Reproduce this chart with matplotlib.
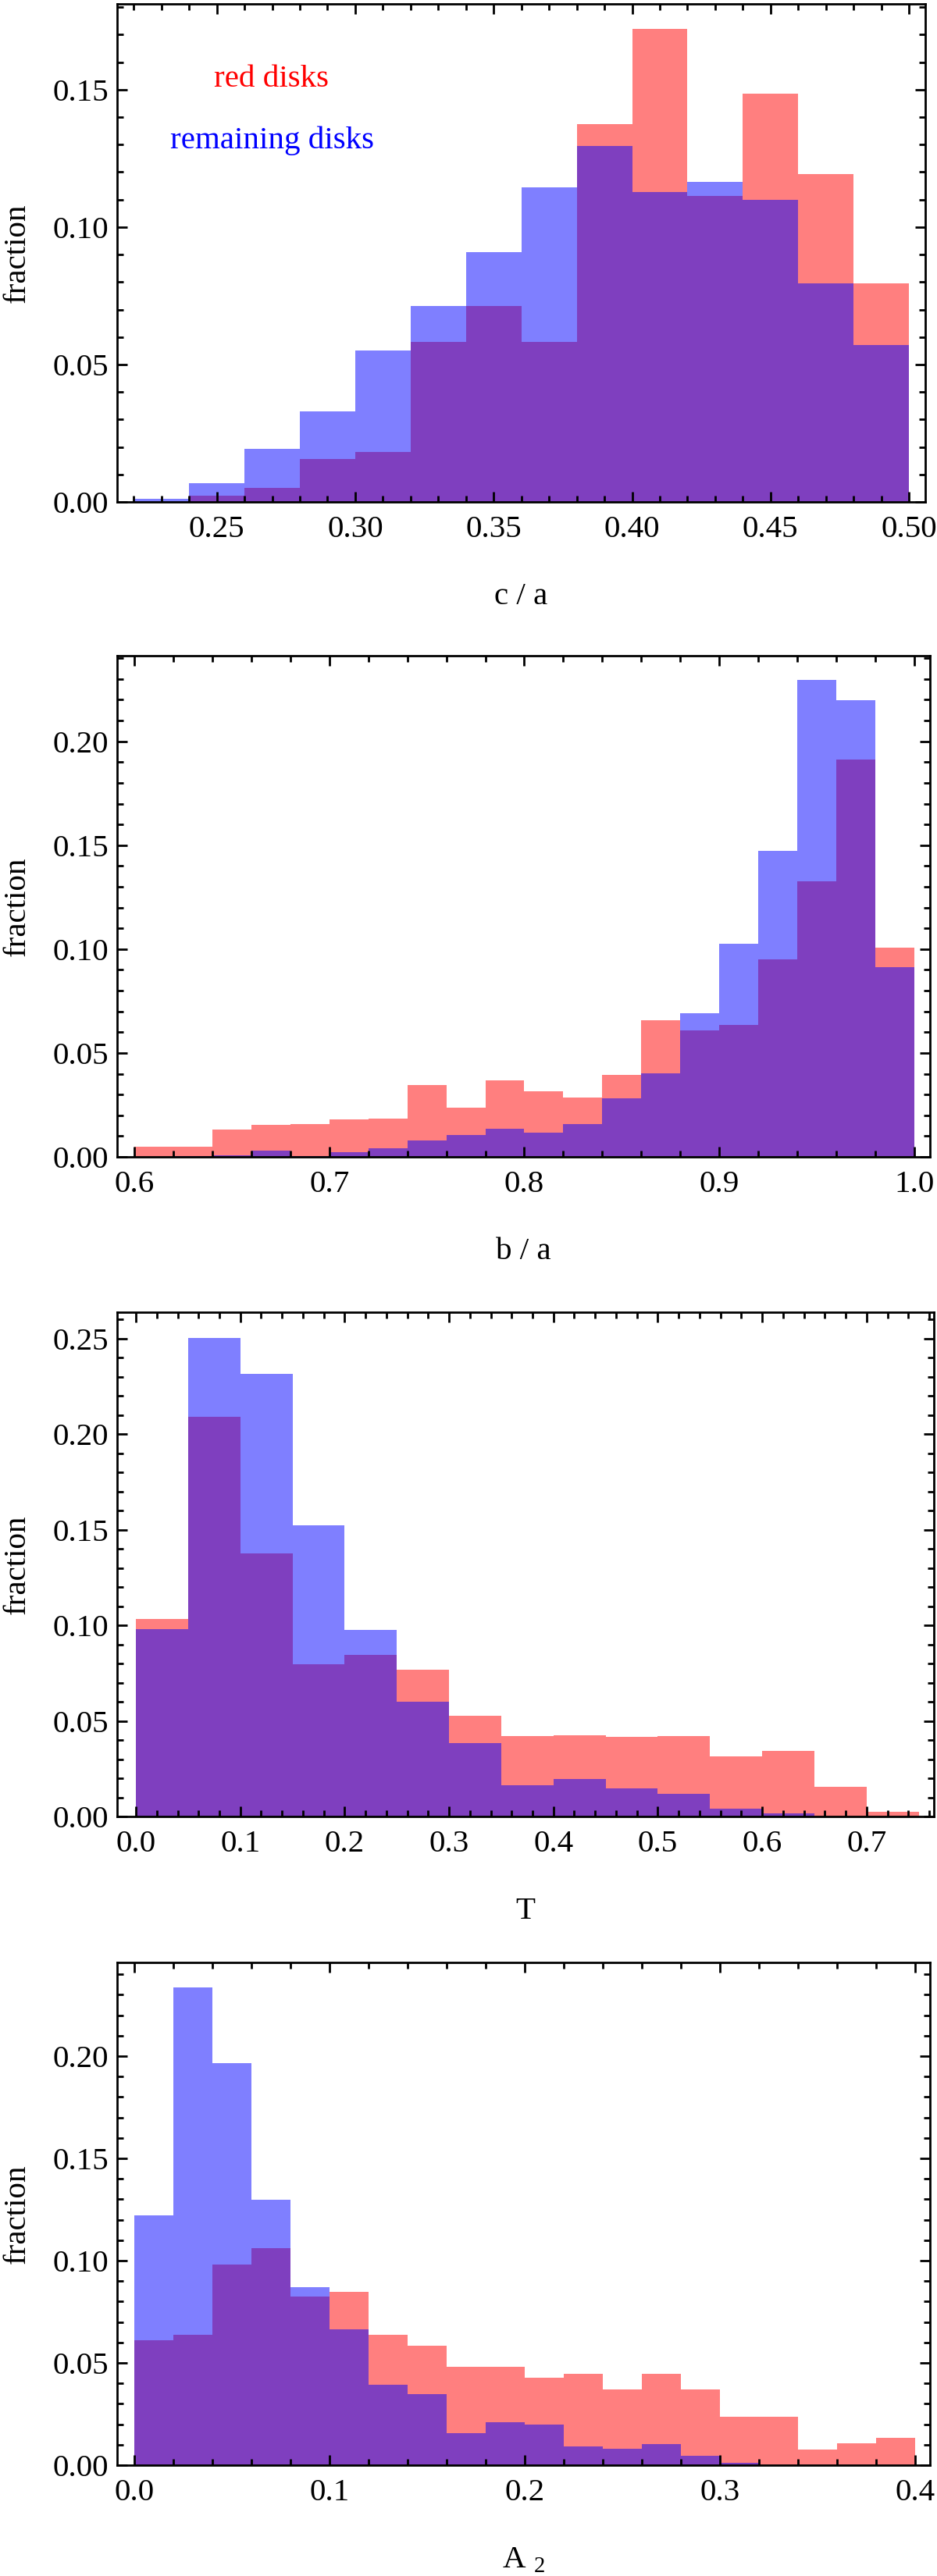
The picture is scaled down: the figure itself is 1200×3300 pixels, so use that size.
import matplotlib
matplotlib.use('Agg')
import matplotlib.pyplot as plt
import numpy as np
from matplotlib.ticker import MultipleLocator, FormatStrFormatter

plt.rcParams['font.family'] = ['Liberation Serif', 'DejaVu Serif']
plt.rcParams['mathtext.fontset'] = 'custom'
plt.rcParams['mathtext.rm'] = 'Liberation Serif'

# c / a histogram (bins of 0.02)
ca_edges = np.arange(0.22, 0.5001, 0.02)
ca_red = [0.0, 0.0022, 0.0051, 0.0156, 0.0182, 0.0583, 0.0712, 0.0583, 0.1376, 0.1722, 0.1113, 0.1484, 0.1192, 0.0794]
ca_blue = [0.0010, 0.0067, 0.0193, 0.0330, 0.0550, 0.0712, 0.0908, 0.1144, 0.1295, 0.1128, 0.1164, 0.1099, 0.0794, 0.0571]

# b / a histogram (bins of 0.02)
ba_edges = np.arange(0.60, 1.0001, 0.02)
ba_red = [0.0050, 0.0049, 0.0131, 0.0154, 0.0158, 0.0181, 0.0183, 0.0344, 0.0236, 0.0367,
          0.0317, 0.0286, 0.0396, 0.0659, 0.0607, 0.0636, 0.0951, 0.1326, 0.1912, 0.1007]
ba_blue = [0.0, 0.0004, 0.0006, 0.0031, 0.0004, 0.0023, 0.0042, 0.0079, 0.0106, 0.0136,
           0.0115, 0.0159, 0.0282, 0.0402, 0.0690, 0.1024, 0.1472, 0.2296, 0.2196, 0.0913]

# T histogram (bins of 0.05)
t_edges = np.arange(0.0, 0.7501, 0.05)
t_red = [0.1031, 0.2089, 0.1377, 0.0795, 0.0845, 0.0766, 0.0528, 0.0419, 0.0424, 0.0417,
         0.0422, 0.0315, 0.0342, 0.0157, 0.0023]
t_blue = [0.0981, 0.2504, 0.2316, 0.1521, 0.0977, 0.0599, 0.0382, 0.0165, 0.0194, 0.0148,
          0.0117, 0.0042, 0.0017, 0.0, 0.0]

# A2 histogram (bins of 0.02)
a2_edges = np.arange(0.0, 0.4001, 0.02)
a2_red = [0.0610, 0.0638, 0.0982, 0.1060, 0.0824, 0.0848, 0.0638, 0.0584, 0.0480, 0.0480,
          0.0426, 0.0448, 0.0372, 0.0448, 0.0372, 0.0236, 0.0238, 0.0078, 0.0106, 0.0132]
a2_blue = [0.1220, 0.2334, 0.1964, 0.1298, 0.0872, 0.0664, 0.0392, 0.0346, 0.0156, 0.0210,
           0.0198, 0.0092, 0.0080, 0.0104, 0.0044, 0.0012, 0.0, 0.0, 0.0, 0.0]

W, H = 1200, 3300
fig = plt.figure(figsize=(12, 33), dpi=100)
FS = 29.5


def panel(box, edges, red, blue, xlim, ylim, xmaj, xmin, xfmt, xlabel):
    left, top, right, bottom = box
    ax = fig.add_axes([left / W, 1 - bottom / H, (right - left) / W, (bottom - top) / H])
    ax.stairs(red, edges, fill=True, color='red', alpha=0.5, lw=0)
    ax.stairs(blue, edges, fill=True, color='blue', alpha=0.5, lw=0)
    ax.set_xlim(*xlim)
    ax.set_ylim(*ylim)
    ax.xaxis.set_major_locator(MultipleLocator(xmaj))
    ax.xaxis.set_minor_locator(MultipleLocator(xmin))
    ax.yaxis.set_major_locator(MultipleLocator(0.05))
    ax.yaxis.set_minor_locator(MultipleLocator(0.01))
    ax.xaxis.set_major_formatter(FormatStrFormatter(xfmt))
    ax.yaxis.set_major_formatter(FormatStrFormatter('%.2f'))
    ax.tick_params(which='both', direction='in', top=True, right=True, width=2, labelsize=FS)
    ax.tick_params(which='major', length=9.5)
    ax.tick_params(which='minor', length=5.5)
    ax.tick_params(axis='x', pad=12)
    ax.tick_params(axis='y', pad=8)
    for s in ax.spines.values():
        s.set_linewidth(2)
    hpx = bottom - top
    ax.set_ylabel('fraction', fontsize=FS)
    ax.yaxis.set_label_coords(-128 / (right - left), 0.5)
    ax.yaxis.label.set_verticalalignment('center')
    ax.set_xlabel(xlabel, fontsize=FS)
    ax.xaxis.set_label_coords(0.5, -131 / hpx)
    ax.xaxis.label.set_verticalalignment('baseline')
    return ax


ax1 = panel((150, 5, 1185, 643), ca_edges, ca_red, ca_blue, (0.214, 0.5059), (0, 0.1812),
            0.05, 0.01, '%.2f', 'c / a')
ax1.text(0.2697, 0.1538, 'red disks', color='red', fontsize=FS, ha='center', va='center')
ax1.text(0.270, 0.1313, 'remaining disks', color='blue', fontsize=FS, ha='center', va='center')

panel((150, 840, 1191, 1482), ba_edges, ba_red, ba_blue, (0.5912, 1.008), (0, 0.2412),
      0.1, 0.02, '%.1f', 'b / a')
panel((150, 1681, 1196, 2327), t_edges, t_red, t_blue, (-0.018, 0.7645), (0, 0.2637),
      0.1, 0.02, '%.1f', 'T')
panel((150, 2514, 1191, 3158), a2_edges, a2_red, a2_blue, (-0.0088, 0.4077), (0, 0.2458),
      0.1, 0.02, '%.1f', r'A $_\mathregular{2}$')

fig.savefig('out.png', dpi=100)
